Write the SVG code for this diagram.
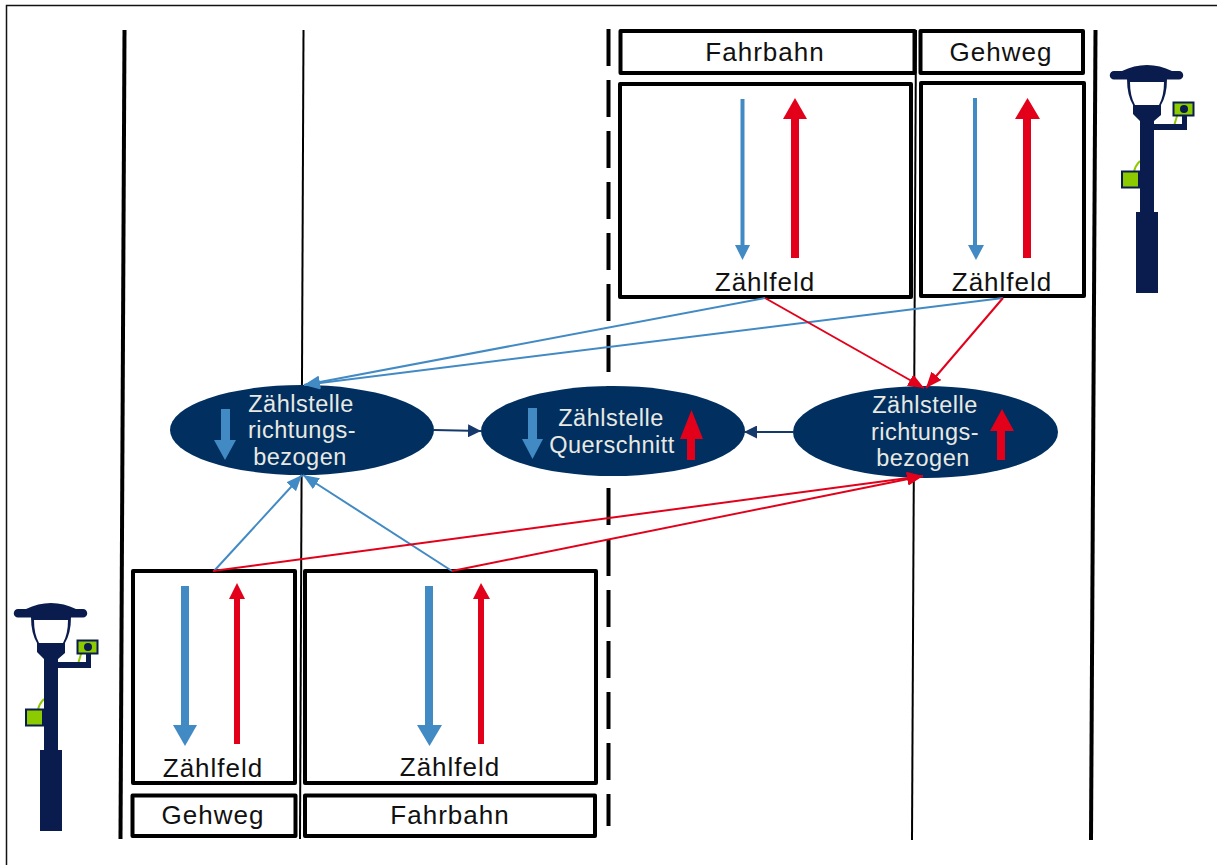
<svg xmlns="http://www.w3.org/2000/svg" width="1217" height="865" viewBox="0 0 1217 865">
<style>
.t{font-family:"Liberation Sans",Arial,sans-serif;font-size:26px;letter-spacing:1px;fill:#111;text-anchor:middle}
.e{font-family:"Liberation Sans",Arial,sans-serif;font-size:23.500px;letter-spacing:.5px;fill:#e9e9e2;text-anchor:middle}
.b{fill:#fff;stroke:#000;stroke-width:4;stroke-linejoin:round}
.v{fill:none;stroke:#000}
.n{fill:#002f60}
.cb{stroke:#428ac4;stroke-width:2;fill:none;marker-end:url(#mb)}
.cr{stroke:#e2001a;stroke-width:2;fill:none;marker-end:url(#mr)}
.cn{stroke:#16396b;stroke-width:2;fill:none;marker-end:url(#mn)}
.ab{fill:#428ac4}
.ar{fill:#e2001a}
</style>
<defs>
<marker id="mb" markerUnits="userSpaceOnUse" markerWidth="17" markerHeight="13" refX="16" refY="6.500" orient="auto"><path d="M0 0L16 6.500L0 13Z" fill="#428ac4"/></marker>
<marker id="mr" markerUnits="userSpaceOnUse" markerWidth="17" markerHeight="13" refX="16" refY="6.500" orient="auto"><path d="M0 0L16 6.500L0 13Z" fill="#e2001a"/></marker>
<marker id="mn" markerUnits="userSpaceOnUse" markerWidth="14" markerHeight="13" refX="13" refY="6.500" orient="auto"><path d="M0 0L13 6.500L0 13Z" fill="#16396b"/></marker>
<g id="lamp">
<path d="M1177 116L1174 126M1134 172Q1135 166 1140 161" fill="none" stroke="#8ccb00" stroke-width="2"/>
<path fill="#0a1c4d" d="M1114 71H1122Q1134 65 1147 65Q1160 65 1172 71H1179A4 4 0 0 1 1179 79.500H1114A4 4 0 0 1 1114 71Z"/>
<path fill="#0a1c4d" fill-rule="evenodd" d="M1127 79H1167Q1167 95 1161 105V115L1154 121V124H1187V130H1154V212H1158V293H1136V212H1140V121L1133 114V105Q1127 95 1127 79ZM1130 82Q1130 96 1135 105H1159Q1164 96 1164 82Z"/>
<rect x="1173.500" y="102.500" width="20" height="13" fill="#8ccb00" stroke="#0a1c4d" stroke-width="2"/>
<path d="M1182 116H1187V125H1182Z" fill="#0a1c4d"/>
<circle cx="1184" cy="109" r="4" fill="#0a1c4d"/>
<rect x="1122" y="171.500" width="17" height="16" fill="#8ccb00" stroke="#0a1c4d" stroke-width="2"/>
</g>
</defs>
<rect width="1217" height="865" fill="#fff"/>
<g id="frame">
<path d="M6.500 865V5.500H1217" fill="none" stroke="#111" stroke-width="1.500"/>
<path class="v" stroke-width="4" d="M124.500 30L120.500 839"/>
<path class="v" stroke-width="2" d="M303.500 30L300 839"/>
<path class="v" stroke-width="4" stroke-dasharray="37 14" d="M608.500 29V826"/>
<path class="v" stroke-width="2" d="M916 30L912 840"/>
<path class="v" stroke-width="4" d="M1095.500 30L1091 840"/>
</g>
<g id="lamp-right"><use href="#lamp"/></g>
<g id="lamp-left"><use href="#lamp" transform="translate(-1096 538)"/></g>
<g id="fahrbahn-top"><rect class="b" x="620.500" y="31" width="294" height="42"/><text class="t" x="765" y="61">Fahrbahn</text></g>
<g id="gehweg-top"><rect class="b" x="920.500" y="31" width="162.500" height="42"/><text class="t" x="1001" y="61">Gehweg</text></g>
<g id="zaehlfeld-top-fahrbahn"><rect class="b" x="620" y="84" width="291" height="213"/>
<rect class="ab" x="740.500" y="99" width="4" height="148"/><path class="ab" d="M735 245H750L742.500 260Z"/>
<rect class="ar" x="791" y="118" width="8" height="140"/><path class="ar" d="M783 119H807L795 98Z"/>
<text class="t" x="765" y="291">Zählfeld</text></g>
<g id="zaehlfeld-top-gehweg"><rect class="b" x="921" y="83" width="163" height="213"/>
<rect class="ab" x="973" y="98" width="4" height="148"/><path class="ab" d="M968 245H984L976 260Z"/>
<rect class="ar" x="1023" y="118" width="8" height="140"/><path class="ar" d="M1015 119H1040L1027.500 98Z"/>
<text class="t" x="1002" y="291">Zählfeld</text></g>
<g id="zaehlfeld-bottom-gehweg"><rect class="b" x="133" y="571" width="162" height="212"/>
<rect class="ab" x="181" y="586" width="8" height="140"/><path class="ab" d="M173 725H197L185 746Z"/>
<rect class="ar" x="234" y="598" width="6" height="146"/><path class="ar" d="M229 599H245L237 583Z"/>
<text class="t" x="213" y="777">Zählfeld</text></g>
<g id="zaehlfeld-bottom-fahrbahn"><rect class="b" x="305" y="571" width="291" height="212"/>
<rect class="ab" x="425" y="586" width="8" height="140"/><path class="ab" d="M417 725H442L429.500 746Z"/>
<rect class="ar" x="478" y="598" width="6" height="146"/><path class="ar" d="M473 599H490L481 583Z"/>
<text class="t" x="450" y="776">Zählfeld</text></g>
<g id="gehweg-bottom"><rect class="b" x="132.500" y="795.500" width="163" height="40.500"/><text class="t" x="213" y="824">Gehweg</text></g>
<g id="fahrbahn-bottom"><rect class="b" x="305" y="795.500" width="290" height="40.500"/><text class="t" x="450" y="824">Fahrbahn</text></g>
<g id="node-links"><ellipse class="n" cx="302" cy="430" rx="132" ry="45"/>
<rect class="ab" x="221" y="409" width="9" height="33"/><path class="ab" d="M214 440H236L225 460Z"/>
<text class="e" x="301" y="412">Zählstelle</text><text class="e" x="302" y="438">richtungs-</text><text class="e" x="300" y="465">bezogen</text></g>
<g id="node-querschnitt"><ellipse class="n" cx="613" cy="431" rx="132" ry="45"/>
<rect class="ab" x="528" y="408" width="9" height="33"/><path class="ab" d="M522 439H543L532.500 459Z"/>
<rect class="ar" x="687" y="438" width="8" height="22"/><path class="ar" d="M680 439H703L691.500 410Z"/>
<text class="e" x="611" y="426">Zählstelle</text><text class="e" x="612" y="453">Querschnitt</text></g>
<g id="node-rechts"><ellipse class="n" cx="925.500" cy="432" rx="132.500" ry="46"/>
<rect class="ar" x="997" y="430" width="8" height="30"/><path class="ar" d="M990 431H1014L1002 409Z"/>
<text class="e" x="925" y="413">Zählstelle</text><text class="e" x="925" y="440">richtungs-</text><text class="e" x="923" y="466">bezogen</text></g>
<g id="connectors">
<path class="cb" d="M765 298L304 385"/>
<path class="cb" d="M1003 298L304 385"/>
<path class="cr" d="M765 298L924 388"/>
<path class="cr" d="M1003 298L926 388"/>
<path class="cb" d="M214 571L302 475"/>
<path class="cb" d="M452 571L303 475"/>
<path class="cr" d="M213 571L923 476"/>
<path class="cr" d="M452 571L923 476"/>
<path class="cn" d="M434 430L481 431"/>
<path class="cn" d="M794 432L744 432"/>
</g>
</svg>
